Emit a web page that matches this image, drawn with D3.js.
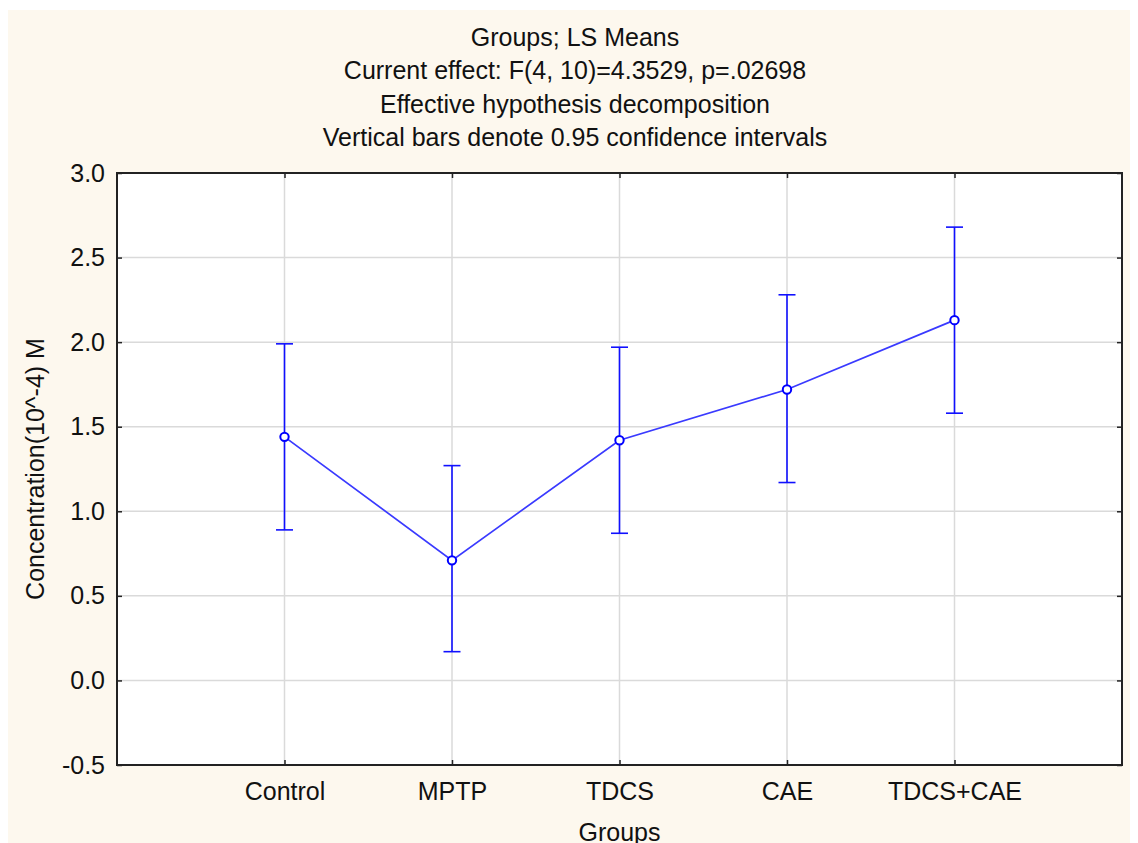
<!DOCTYPE html>
<head>
<meta charset="utf-8">
<script src="https://d3js.org/d3.v7.min.js"></script>
<style>
  body { margin: 0; background: #fff; }
  text { font-family: "Liberation Sans", Arial, sans-serif; fill: #111; }
</style>
</head>
<body>
<div id="datavis"></div>
<script type="text/javascript">
    // data
    var groups = ["Control", "MPTP", "TDCS", "CAE", "TDCS+CAE"];
    var means  = [1.44, 0.71, 1.42, 1.72, 2.13];
    var lower  = [0.89, 0.17, 0.87, 1.17, 1.58];
    var upper  = [1.99, 1.27, 1.97, 2.28, 2.68];
    var yTicks = [-0.5, 0.0, 0.5, 1.0, 1.5, 2.0, 2.5, 3.0];
    var titles = ["Groups; LS Means",
                  "Current effect: F(4, 10)=4.3529, p=.02698",
                  "Effective hypothesis decomposition",
                  "Vertical bars denote 0.95 confidence intervals"];

    var W = 1138, H = 843;
    var margin = {top: 173, right: 16, bottom: 78, left: 117},
        width = W - margin.left - margin.right,
        height = H - margin.top - margin.bottom;

    var root = d3.select("#datavis").append("svg")
        .attr("width", W).attr("height", H);

    // cream panel behind everything
    root.append("rect").attr("x", 8).attr("y", 10)
        .attr("width", 1122).attr("height", H - 10)
        .attr("fill", "#fdf8ee");

    // titles
    root.selectAll(".title").data(titles).enter().append("text")
        .attr("class", "title")
        .attr("x", 575).attr("y", function(d, i) { return 46 + i * 33.4; })
        .attr("text-anchor", "middle")
        .style("font-size", "25px")
        .text(function(d) { return d; });

    var svg = root.append("g")
        .attr("transform", "translate(" + margin.left + "," + margin.top + ")");

    var x = d3.scaleLinear().domain([0, groups.length + 1]).range([0, width]);
    var y = d3.scaleLinear().domain([-0.5, 3.0]).range([height, 0]);

    svg.append("rect").attr("width", width).attr("height", height).attr("fill", "#fff");

    // grid
    svg.selectAll(".hg").data(yTicks).enter().append("line")
        .attr("x1", 0).attr("x2", width)
        .attr("y1", function(d) { return y(d); }).attr("y2", function(d) { return y(d); })
        .attr("stroke", "#dadada").attr("stroke-width", 1.5);
    svg.selectAll(".vg").data(groups).enter().append("line")
        .attr("x1", function(d, i) { return x(i + 1); }).attr("x2", function(d, i) { return x(i + 1); })
        .attr("y1", 0).attr("y2", height)
        .attr("stroke", "#dadada").attr("stroke-width", 1.5);

    // axes (ticks point inward)
    var xPos = groups.map(function(d, i) { return i + 1; });
    var fmt = function(d) { return d3.format(".1f")(d).replace("\u2212", "-"); };
    var yAxis = svg.append("g")
        .call(d3.axisLeft(y).tickValues(yTicks).tickFormat(fmt).tickSizeInner(-5).tickSizeOuter(0).tickPadding(12));
    var yAxisR = svg.append("g").attr("transform", "translate(" + width + ",0)")
        .call(d3.axisRight(y).tickValues(yTicks).tickFormat("").tickSizeInner(-5).tickSizeOuter(0));
    var xAxis = svg.append("g").attr("transform", "translate(0," + height + ")")
        .call(d3.axisBottom(x).tickValues(xPos).tickFormat(function(d) { return groups[d - 1]; })
              .tickSizeInner(-5).tickSizeOuter(0).tickPadding(17));
    var xAxisT = svg.append("g")
        .call(d3.axisTop(x).tickValues(xPos).tickFormat("").tickSizeInner(-5).tickSizeOuter(0));
    [yAxis, yAxisR, xAxis, xAxisT].forEach(function(a) {
        a.select(".domain").remove();
        a.selectAll(".tick line").attr("stroke", "#222").attr("stroke-width", 1.5);
        a.selectAll("text").style("font-size", "25px").attr("fill", "#111");
    });

    // frame
    svg.append("rect").attr("width", width).attr("height", height)
        .attr("fill", "none").attr("stroke", "#222").attr("stroke-width", 2);

    // error bars
    var cap = 8.5;
    var eb = svg.selectAll(".eb").data(groups).enter().append("g");
    eb.append("line")
        .attr("x1", function(d, i) { return x(i + 1); }).attr("x2", function(d, i) { return x(i + 1); })
        .attr("y1", function(d, i) { return y(lower[i]); }).attr("y2", function(d, i) { return y(upper[i]); });
    eb.append("line")
        .attr("x1", function(d, i) { return x(i + 1) - cap; }).attr("x2", function(d, i) { return x(i + 1) + cap; })
        .attr("y1", function(d, i) { return y(upper[i]); }).attr("y2", function(d, i) { return y(upper[i]); });
    eb.append("line")
        .attr("x1", function(d, i) { return x(i + 1) - cap; }).attr("x2", function(d, i) { return x(i + 1) + cap; })
        .attr("y1", function(d, i) { return y(lower[i]); }).attr("y2", function(d, i) { return y(lower[i]); });
    eb.selectAll("line").attr("stroke", "#1010ff").attr("stroke-width", 1.6);

    // means line
    svg.append("path")
        .datum(means)
        .attr("fill", "none")
        .attr("stroke", "#3a3aff")
        .attr("stroke-width", 1.7)
        .attr("d", d3.line().x(function(d, i) { return x(i + 1); }).y(function(d) { return y(d); }));

    svg.selectAll(".pt").data(means).enter().append("circle")
        .attr("cx", function(d, i) { return x(i + 1); })
        .attr("cy", function(d) { return y(d); })
        .attr("r", 4.2)
        .attr("fill", "#fff").attr("stroke", "#0000ff").attr("stroke-width", 2);

    // axis titles
    root.append("text")
        .attr("transform", "translate(44," + (margin.top + height / 2) + ") rotate(-90)")
        .attr("text-anchor", "middle")
        .style("font-size", "25px")
        .text("Concentration(10^-4) M");
    root.append("text")
        .attr("x", margin.left + width / 2).attr("y", 841)
        .attr("text-anchor", "middle")
        .style("font-size", "25px")
        .text("Groups");
</script>
</body>
